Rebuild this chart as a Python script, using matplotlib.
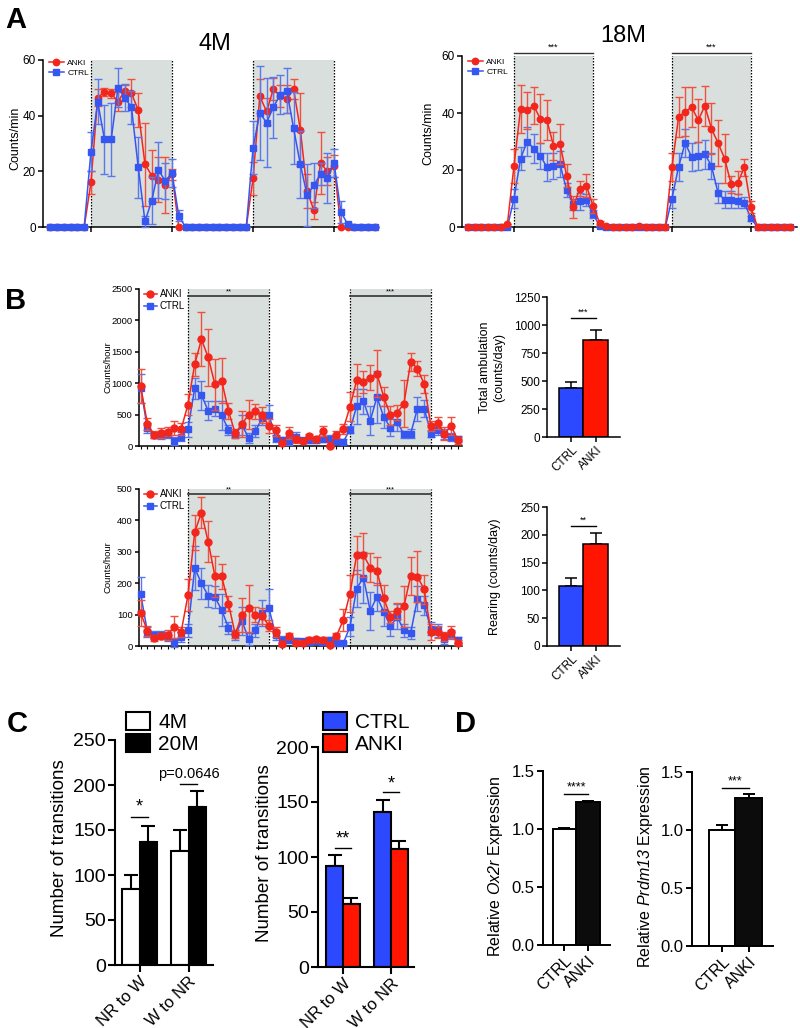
"""Activity time courses, daily totals, transitions and expression bars (panels A-D)."""

import matplotlib.pyplot as plt
import numpy as np
from matplotlib.lines import Line2D

plt.rcParams["font.family"] = ["Liberation Sans", "DejaVu Sans"]
plt.rcParams["mathtext.fontset"] = "custom"
plt.rcParams["mathtext.rm"] = "Liberation Sans:italic"  # digits inside $...$ stay italic
plt.rcParams["mathtext.it"] = "Liberation Sans:italic"

W, H = 800, 1028
RED = "#f2261c"
BLUE = "#3656f2"
RED_ERR = "#f0513f"
BLUE_ERR = "#5a78ee"
BAR_RED = "#ff1500"
BAR_BLUE = "#2c49ff"
SHADE = "#d9dfdc"

# ---- panel A: counts/min, hourly, 4M (dark at idx 6-18, 30-42) ----
ANKI_4M = [0, 0, 0, 0, 0, 0,
           16, 46.5, 48.5, 48, 45, 49, 48, 42, 22.5, 18.5, 17, 15, 19,
           0, 0, 0, 0, 0, 0, 0, 0, 0, 0, 0,
           17.5, 47, 41.5, 49.5, 47, 46, 49.5, 35, 13, 6, 23, 20, 22,
           0, 0, 0, 0, 0, 0]
ANKI_4M_ERR = [0] * 6 + [4, 3, 1.5, 1.5, 3.5, 2, 5, 6, 15, 9, 8, 10, 2] + [0] * 11 \
    + [6, 6, 5, 4, 4, 5, 3.5, 13, 6, 3, 11, 5, 4] + [0] * 6
CTRL_4M = [0] * 6 + [27, 45, 31.5, 31.5, 50, 46.5, 43, 21.5, 2, 9.5, 20.5, 16.5, 19.5] \
    + [4] + [0] * 10 \
    + [28.5, 41, 37.5, 43, 47.5, 49, 35.5, 22.5, 11.5, 15, 19, 17.5, 23] + [5.5, 1] + [0] * 4
CTRL_4M_ERR = [0] * 6 + [7, 8, 12.5, 13, 7, 5, 6, 11, 2, 8.5, 10, 6.5, 5] + [2] + [0] * 10 \
    + [9.5, 17, 16, 11, 7, 8, 13, 12, 11, 8, 4, 9, 5] + [4, 0.5] + [0] * 4

# 18M (dark at idx 7-19, 31-43)
ANKI_18M = [0, 0, 0, 0, 0, 0, 1] \
    + [21.5, 41.5, 41, 42.5, 38, 37.5, 28.5, 29, 18, 7, 13.5, 14.5, 7.5] \
    + [1.5, 0.5, 0, 0, 0, 0, 0.5, 0, 0, 0, 0] \
    + [21, 38.5, 40.5, 42, 37.5, 42.5, 34.5, 29.5, 24, 15, 15.5, 21, 7] + [0] * 6
ANKI_18M_ERR = [0] * 7 + [6, 8.5, 6.5, 6.5, 8.5, 7, 5, 7, 4, 4, 2.5, 4, 2.5] + [0.5] + [0] * 10 \
    + [5, 7, 8.5, 7, 7.5, 7, 9, 8, 8.5, 3, 4, 3, 2] + [0] * 6
CTRL_18M = [0] * 7 + [10, 24, 30, 27.5, 25, 21, 21.5, 22, 13, 8, 9, 9.5, 4.5] + [0.5] + [0] * 10 \
    + [10, 21, 29.5, 24.5, 25, 25.5, 21.5, 12, 9.5, 9.5, 9, 8.5, 3] + [0] * 6
CTRL_18M_ERR = [0] * 7 + [3.5, 4, 5, 5, 4.5, 5, 4.5, 4.5, 2.5, 2, 3, 2, 1.5] + [0] * 11 \
    + [3.5, 5, 5, 5, 5, 5, 4.5, 3.5, 3, 3, 2.5, 2, 1] + [0] * 6

# ---- panel B: counts/hour (dark at idx 7-19, 31-43) ----
ANKI_AMB = [950, 350, 180, 200, 230, 290, 270,
            660, 1300, 1700, 1410, 980, 1040, 560, 200, 350, 500, 550, 490, 320,
            250, 50, 207, 106, 75, 154, 106, 234, 0, 181, 266,
            622, 1048, 1021, 1085, 1154, 782, 489, 527, 676, 1340, 1234, 984, 314,
            367, 197, 319, 90]
ANKI_AMB_ERR = [270, 100, 60, 80, 70, 110, 90,
                170, 180, 430, 460, 400, 360, 130, 70, 200, 230, 120, 130, 110,
                90, 20, 90, 60, 30, 40, 40, 80, 10, 60, 80,
                230, 250, 170, 200, 370, 150, 150, 120, 380, 140, 120, 140, 80,
                100, 100, 150, 60]
CTRL_AMB = [920, 280, 180, 170, 190, 80, 150,
            270, 920, 810, 560, 590, 490, 260, 180, 330, 130, 240, 440, 500,
            120, 90, 80, 144, 90, 90, 100, 117, 117, 80, 64,
            260, 633, 713, 400, 782, 463, 293, 383, 186, 197, 596, 596, 197,
            250, 186, 144, 117]
CTRL_AMB_ERR = [230, 80, 50, 60, 60, 60, 70,
                120, 170, 230, 150, 120, 230, 80, 40, 160, 80, 100, 100, 160,
                60, 60, 60, 80, 40, 40, 50, 50, 60, 50, 40,
                60, 280, 200, 230, 420, 180, 140, 150, 60, 70, 190, 130, 60,
                80, 80, 70, 50]
ANKI_REAR = [105, 48, 25, 32, 35, 62, 45,
             162, 362, 425, 332, 222, 222, 135, 38, 98, 120, 100, 95, 65,
             45, 5, 31, 10, 11, 20, 21, 20, 2, 32, 82,
             167, 290, 290, 250, 240, 153, 93, 111, 127, 223, 221, 180, 45,
             45, 31, 45, 10]
ANKI_REAR_ERR = [40, 15, 10, 10, 15, 35, 15,
                 50, 55, 50, 65, 65, 40, 25, 12, 55, 75, 25, 25, 18,
                 15, 5, 10, 8, 5, 8, 8, 8, 3, 10, 35,
                 60, 60, 70, 45, 45, 40, 20, 25, 65, 60, 80, 45, 25,
                 20, 15, 20, 8]
CTRL_REAR = [165, 45, 35, 35, 30, 12, 28,
             50, 248, 200, 160, 155, 115, 58, 35, 80, 22, 50, 105, 120,
             35, 20, 20, 15, 15, 12, 15, 12, 20, 8, 8,
             61, 183, 218, 112, 157, 109, 63, 93, 50, 42, 151, 130, 55,
             50, 21, 37, 20]
CTRL_REAR_ERR = [55, 15, 12, 12, 15, 15, 15,
                 20, 70, 50, 35, 35, 50, 20, 15, 45, 20, 20, 40, 60,
                 15, 12, 10, 10, 8, 8, 8, 8, 8, 5, 5,
                 30, 60, 80, 60, 45, 45, 30, 40, 20, 20, 40, 30, 20,
                 20, 15, 15, 10]

GROUPS_B = ["CTRL", "ANKI"]
AMB_TOTAL = [440, 870]
AMB_TOTAL_ERR = [55, 85]
REAR_TOTAL = [108, 183]
REAR_TOTAL_ERR = [15, 20]

# ---- panel C ----
TRANSITIONS = ["NR to W", "W to NR"]
AGE_4M = [84, 127]
AGE_4M_ERR = [16, 23]
AGE_20M = [137, 176]
AGE_20M_ERR = [17, 17]
TR_CTRL = [92, 141]
TR_CTRL_ERR = [10, 11]
TR_ANKI = [57, 107]
TR_ANKI_ERR = [6, 8]

# ---- panel D ----
GROUPS_D = ["CTRL", "ANKI"]
OX2R = [1.0, 1.23]
OX2R_ERR = [0.01, 0.015]
PRDM13 = [1.0, 1.28]
PRDM13_ERR = [0.045, 0.03]


def px_axes(fig, x0, y0, x1, y1):
    return fig.add_axes([x0 / W, 1 - y1 / H, (x1 - x0) / W, (y1 - y0) / H])


def style_axes(ax, lw=1.1, labelsize=8, ticklen=3.5):
    for side in ("top", "right"):
        ax.spines[side].set_visible(False)
    for side in ("left", "bottom"):
        ax.spines[side].set_linewidth(lw)
    ax.tick_params(direction="out", width=lw, length=ticklen, labelsize=labelsize, pad=1.5)


def place_ylabel(ax, fig, text, px, py, size):
    ax.set_ylabel(text, fontsize=size, linespacing=1.2)
    ax.yaxis.set_label_coords(px / W, 1 - py / H, transform=fig.transFigure)


def time_course(ax, anki, anki_err, ctrl, ctrl_err, dark, ylim, shade_top, ms, red_top):
    x = np.arange(len(anki))
    for s, e in dark:
        ax.fill_between([s, e], 0, shade_top, color=SHADE, lw=0, zorder=0)
        for xv in (s, e):
            ax.plot([xv, xv], [0, shade_top], color="black", ls=(0, (1.2, 1.2)), lw=0.9, zorder=1)
    series = [(ctrl, ctrl_err, BLUE, BLUE_ERR, "s", 3), (anki, anki_err, RED, RED_ERR, "o", 4)]
    if not red_top:
        series = [(anki, anki_err, RED, RED_ERR, "o", 3), (ctrl, ctrl_err, BLUE, BLUE_ERR, "s", 4)]
    for y, err, c, ec, m, z in series:
        cont = ax.errorbar(x, y, yerr=err, color=c, ecolor=ec, marker=m, ms=ms, lw=1.1,
                           elinewidth=1.0, capsize=2.6, capthick=1.0, zorder=z)
        for art in cont.get_children():
            art.set_clip_on(False)
    ax.set_ylim(*ylim)
    handles = [Line2D([0], [0], color=RED, marker="o", ms=ms, lw=1.1),
               Line2D([0], [0], color=BLUE, marker="s", ms=ms, lw=1.1)]
    return handles


def sig(ax, x0, x1, y, text, size, dy=0.0, lw=1.0, color="black"):
    ax.plot([x0, x1], [y, y], color=color, lw=lw, clip_on=False)
    ax.text((x0 + x1) / 2, y + dy, text, ha="center", va="bottom", fontsize=size)


def plot_figure():
    fig = plt.figure(figsize=(W / 100, H / 100), dpi=100)

    # ---------------- A ----------------
    ax = px_axes(fig, 43, 60, 378, 227)
    style_axes(ax, labelsize=8.5)
    h = time_course(ax, ANKI_4M, ANKI_4M_ERR, CTRL_4M, CTRL_4M_ERR, [(6, 18), (30, 42)],
                    (0, 60), 60, 4.6, red_top=False)
    ax.set_xlim(-1.1, 48.5)
    ax.set_xticks([6, 18, 30, 42])
    ax.set_xticklabels([])
    ax.set_yticks([0, 20, 40, 60])
    ax.legend(h, ["ANKI", "CTRL"], loc="upper left", bbox_to_anchor=(0.0, 1.04), frameon=False,
              fontsize=6, handlelength=1.8, handletextpad=0.4, labelspacing=0.25, borderpad=0.2)
    place_ylabel(ax, fig, "Counts/min", 21, 138, 9)
    fig.text(215 / W, 1 - 44 / H, "4M", ha="center", va="center", fontsize=17)

    ax = px_axes(fig, 462, 56, 797, 227)
    style_axes(ax, labelsize=8.5)
    h = time_course(ax, ANKI_18M, ANKI_18M_ERR, CTRL_18M, CTRL_18M_ERR, [(7, 19), (31, 43)],
                    (0, 60), 61, 4.6, red_top=True)
    ax.set_xlim(-0.9, 50)
    ax.set_xticks([7, 19, 31, 43])
    ax.set_xticklabels([])
    ax.set_yticks([0, 20, 40, 60])
    for s, e in [(7, 19), (31, 43)]:
        sig(ax, s, e, 61, "***", 6.5, dy=0.6, lw=1.0, color="#333333")
    ax.legend(h, ["ANKI", "CTRL"], loc="upper left", bbox_to_anchor=(0.0, 1.02), frameon=False,
              fontsize=6, handlelength=1.8, handletextpad=0.4, labelspacing=0.25, borderpad=0.2)
    place_ylabel(ax, fig, "Counts/min", 434, 133, 9)
    fig.text(623 / W, 1 - 36 / H, "18M", ha="center", va="center", fontsize=17)

    # ---------------- B ----------------
    dark_b = [(7, 19), (31, 43)]
    for (y0, y1, anki, anki_err, ctrl, ctrl_err, ymax, step, line_y) in [
            (289, 446, ANKI_AMB, ANKI_AMB_ERR, CTRL_AMB, CTRL_AMB_ERR, 2500, 500, 2385),
            (489, 646, ANKI_REAR, ANKI_REAR_ERR, CTRL_REAR, CTRL_REAR_ERR, 500, 100, 484)]:
        ax = px_axes(fig, 139, y0, 462, y1)
        style_axes(ax, labelsize=6.8, ticklen=3)
        h = time_course(ax, anki, anki_err, ctrl, ctrl_err, dark_b, (0, ymax), ymax, 5, red_top=True)
        ax.set_xlim(-0.25, 47.6)
        ax.set_xticks(np.arange(len(anki)))
        ax.set_xticklabels([])
        ax.tick_params(axis="x", length=2.5, width=0.8)
        ax.set_yticks(np.arange(0, ymax + 1, step))
        for (s, e), stars in zip(dark_b, ["**", "***"]):
            sig(ax, s, e, line_y, stars, 5.5, dy=ymax * 0.005, lw=1.2, color="#333333")
        ax.legend(h, ["ANKI", "CTRL"], loc="upper left", bbox_to_anchor=(0.0, 1.03), frameon=False,
                  fontsize=7, handlelength=1.3, handletextpad=0.35, labelspacing=0.2, borderpad=0.0)
        place_ylabel(ax, fig, "Counts/hour", 112, (y0 + y1) / 2, 6.8)

    for (y0, y1, vals, errs, ymax, step, label, sig_y, stars, lab_x) in [
            (297, 437, AMB_TOTAL, AMB_TOTAL_ERR, 1250, 250, "Total ambulation\n(counts/day)", 1060, "***", 505),
            (507, 646, REAR_TOTAL, REAR_TOTAL_ERR, 250, 50, "Rearing (counts/day)", 215, "**", 501)]:
        ax = px_axes(fig, 547, y0, 620, y1)
        style_axes(ax, labelsize=8.5)
        pos = np.arange(2)
        ax.errorbar(pos, vals, yerr=[[0, 0], errs], fmt="none", ecolor="black", elinewidth=1.1,
                    capsize=4, capthick=1.1, zorder=1)
        ax.bar(pos, vals, 1.0, color=[BAR_BLUE, BAR_RED], edgecolor="black", linewidth=1.1, zorder=2)
        ax.set_xlim(-1, 2)
        ax.set_ylim(0, ymax)
        ax.set_yticks(np.arange(0, ymax + 1, step))
        ax.set_xticks(pos)
        ax.set_xticklabels(GROUPS_B, rotation=45, ha="right", rotation_mode="anchor", fontsize=8.5)
        sig(ax, 0, 1, sig_y, stars, 6.5, dy=ymax * 0.01)
        place_ylabel(ax, fig, label, lab_x, (y0 + y1) / 2, 9)

    # ---------------- C ----------------
    ax = px_axes(fig, 115, 740, 213, 965)
    style_axes(ax, lw=1.5, labelsize=14, ticklen=5)
    pos = np.arange(2)
    bw = 0.35
    ax.errorbar(pos - bw / 2, AGE_4M, yerr=[[0, 0], AGE_4M_ERR], fmt="none", ecolor="black",
                elinewidth=1.5, capsize=5, capthick=1.5, zorder=1)
    ax.errorbar(pos + bw / 2, AGE_20M, yerr=[[0, 0], AGE_20M_ERR], fmt="none", ecolor="black",
                elinewidth=1.5, capsize=5, capthick=1.5, zorder=1)
    b1 = ax.bar(pos - bw / 2, AGE_4M, bw, color="white", edgecolor="black", linewidth=1.5, zorder=2)
    b2 = ax.bar(pos + bw / 2, AGE_20M, bw, color="black", edgecolor="black", linewidth=1.5, zorder=2)
    ax.set_xlim(-0.5, 1.5)
    ax.set_ylim(0, 250)
    ax.set_yticks([0, 50, 100, 150, 200, 250])
    ax.set_xticks(pos)
    ax.set_xticklabels(TRANSITIONS, rotation=45, ha="right", rotation_mode="anchor", fontsize=12)
    sig(ax, -bw / 2, bw / 2, 165, "*", 13, dy=1)
    sig(ax, 1 - bw / 2, 1 + bw / 2, 201, "p=0.0646", 10.5, dy=3)
    ax.legend([b1, b2], ["4M", "20M"], loc="upper left", bbox_to_anchor=(126 / W, 1 - 712 / H),
              bbox_transform=fig.transFigure, frameon=False, fontsize=15, handlelength=1.15,
              handleheight=0.95, handletextpad=0.4, labelspacing=0.1, borderpad=0, borderaxespad=0)
    place_ylabel(ax, fig, "Number of transitions", 68, 848, 13.5)

    ax = px_axes(fig, 318, 747, 414, 967)
    style_axes(ax, lw=1.5, labelsize=14, ticklen=5)
    ax.errorbar(pos - bw / 2, TR_CTRL, yerr=[[0, 0], TR_CTRL_ERR], fmt="none", ecolor="black",
                elinewidth=1.5, capsize=5, capthick=1.5, zorder=1)
    ax.errorbar(pos + bw / 2, TR_ANKI, yerr=[[0, 0], TR_ANKI_ERR], fmt="none", ecolor="black",
                elinewidth=1.5, capsize=5, capthick=1.5, zorder=1)
    b1 = ax.bar(pos - bw / 2, TR_CTRL, bw, color=BAR_BLUE, edgecolor="black", linewidth=1.5, zorder=2)
    b2 = ax.bar(pos + bw / 2, TR_ANKI, bw, color=BAR_RED, edgecolor="black", linewidth=1.5, zorder=2)
    ax.set_xlim(-0.52, 1.48)
    ax.set_ylim(0, 200)
    ax.set_yticks([0, 50, 100, 150, 200])
    ax.set_xticks(pos)
    ax.set_xticklabels(TRANSITIONS, rotation=45, ha="right", rotation_mode="anchor", fontsize=12)
    sig(ax, -bw / 2, bw / 2, 108.5, "**", 13, dy=0)
    sig(ax, 1 - bw / 2, 1 + bw / 2, 159, "*", 13, dy=0)
    ax.legend([b1, b2], ["CTRL", "ANKI"], loc="upper left", bbox_to_anchor=(323 / W, 1 - 712 / H),
              bbox_transform=fig.transFigure, frameon=False, fontsize=15, handlelength=1.15,
              handleheight=0.95, handletextpad=0.4, labelspacing=0.1, borderpad=0, borderaxespad=0)
    place_ylabel(ax, fig, "Number of transitions", 273, 853, 13.5)

    # ---------------- D ----------------
    for (x0, y0, x1, y1, xlim, vals, errs, label, lab_x, sig_y, stars) in [
            (543, 771, 610, 945, (-0.91, 1.94), OX2R, OX2R_ERR,
             "Relative $Ox2r$ Expression", 505, 1.30, "****"),
            (692, 772, 773, 946, (-1.13, 1.92), PRDM13, PRDM13_ERR,
             "Relative $Prdm13$ Expression", 655, 1.36, "***")]:
        ax = px_axes(fig, x0, y0, x1, y1)
        style_axes(ax, lw=1.4, labelsize=12, ticklen=4.5)
        pos = np.arange(2)
        ax.errorbar(pos, vals, yerr=[[0, 0], errs], fmt="none", ecolor="black", elinewidth=1.4,
                    capsize=4.5, capthick=1.4, zorder=1)
        ax.bar(pos, vals, 1.0, color=["white", "#0c0c0c"], edgecolor="black", linewidth=1.4, zorder=2)
        ax.set_xlim(*xlim)
        ax.set_ylim(0, 1.5)
        ax.set_yticks([0.0, 0.5, 1.0, 1.5])
        ax.set_yticklabels(["0.0", "0.5", "1.0", "1.5"])
        ax.set_xticks(pos)
        ax.set_xticklabels(GROUPS_D, rotation=45, ha="right", rotation_mode="anchor", fontsize=11.5)
        sig(ax, 0, 1, sig_y, stars, 9, dy=0.005)
        place_ylabel(ax, fig, label, lab_x, (y0 + y1) / 2 + 8, 11.5)

    # panel letters
    for letter, x, y in [("A", 5, 28), ("B", 5, 309), ("C", 7, 732), ("D", 455, 732)]:
        fig.text(x / W, 1 - y / H, letter, fontsize=21, fontweight="bold", ha="left", va="baseline")

    fig.savefig("out.png", dpi=100)
    plt.close(fig)


if __name__ == "__main__":
    plot_figure()
